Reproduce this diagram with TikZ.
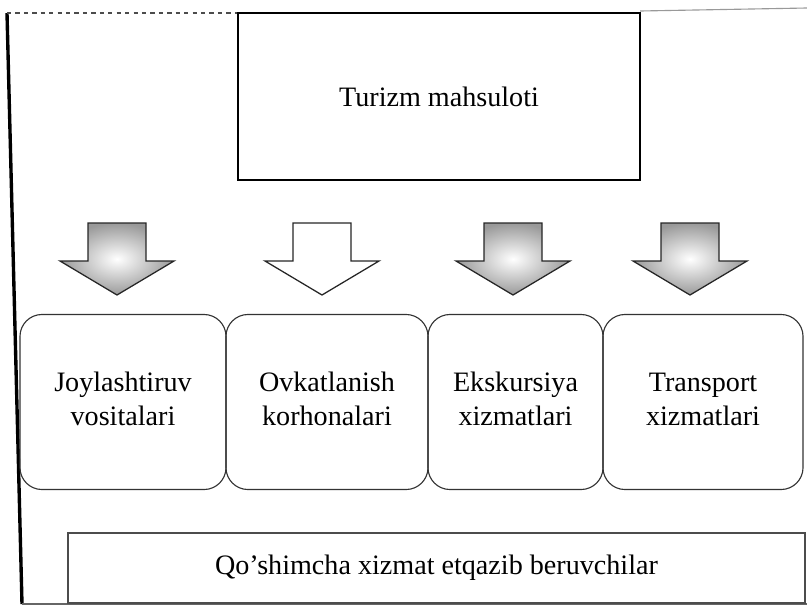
\documentclass[tikz,border=0pt]{standalone}
\usepackage{fontspec}
\setmainfont{Liberation Serif}

\newcommand{\boxfont}{\fontsize{20}{24}\selectfont}

\tikzset{
    productbox/.style={draw, line width=1.4pt, minimum width=10.05cm,
        minimum height=4.175cm, font=\boxfont},
    servicebox/.style={draw=black!80, line width=0.8pt, rounded corners=0.55cm,
        minimum height=4.375cm, align=center, font=\boxfont},
    supplierbox/.style={draw=black!70, line width=0.9pt, minimum width=18.425cm,
        minimum height=1.75cm, font=\boxfont},
    downarrow/.pic={
        \path[pic actions] (-29,0) -- (29,0) -- (29,38) -- (57,38) -- (0,72)
            -- (-57,38) -- (-29,38) -- cycle;
    },
    shadedarrow/.style={draw=black!85, line width=0.9pt, shade, shading=radial,
        inner color=white, outer color=black!40},
    plainarrow/.style={draw=black!85, line width=0.9pt, fill=white},
}

\begin{document}
\begin{tikzpicture}[x=0.025cm, y=-0.025cm]
    \useasboundingbox (0,0) rectangle (807,606);

    % page frame
    \draw[line width=2.4pt] (7,13) -- (22,604);
    \draw[dashed, line width=0.8pt, black!70] (7,13) -- (238,13);
    \draw[line width=0.8pt, black!40] (640,11) -- (807,8);
    \draw[line width=1.2pt, black!60] (22,604) -- (807,604);

    % product
    \node[productbox] (product) at (439,96.5) {Turizm mahsuloti};

    % arrows
    \pic[shadedarrow] (arrowA) at (117,223) {downarrow};
    \pic[plainarrow] (arrowB) at (322,223) {downarrow};
    \pic[shadedarrow] (arrowC) at (513,223) {downarrow};
    \pic[shadedarrow] (arrowD) at (690,223) {downarrow};

    % services
    \node[servicebox, minimum width=5.15cm] (lodging) at (123,402) {Joylashtiruv\strut\\vositalari\strut};
    \node[servicebox, minimum width=5.05cm] (catering) at (327,402) {Ovkatlanish\strut\\korhonalari\strut};
    \node[servicebox, minimum width=4.375cm] (excursion) at (515.5,402) {Ekskursiya\strut\\xizmatlari\strut};
    \node[servicebox, minimum width=5cm] (transport) at (703,402) {Transport\strut\\xizmatlari\strut};

    % suppliers
    \node[supplierbox] (supplier) at (436.5,568) {Qo'shimcha xizmat etqazib beruvchilar};
\end{tikzpicture}
\end{document}
